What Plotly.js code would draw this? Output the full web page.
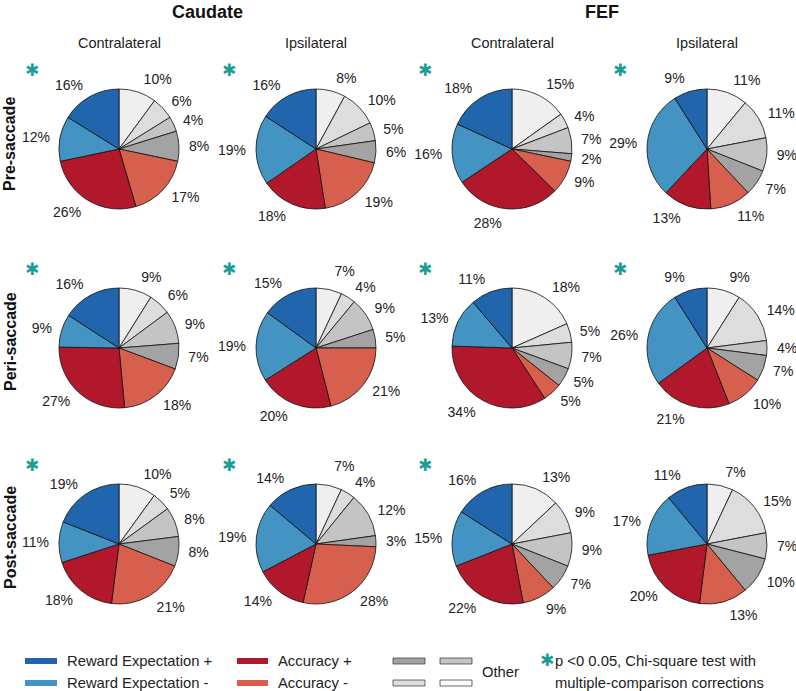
<!DOCTYPE html>
<html><head><meta charset="utf-8">
<script src="https://cdn.plot.ly/plotly-3.0.1.min.js"></script>
<style>html,body{margin:0;padding:0;background:#fff} #chart path.textline{display:none}</style>
</head><body><div id="chart" style="width:796px;height:691px"></div>
<script>
// ---- data ----
const sliceNames = ['Other 1','Other 2','Other 3','Other 4','Accuracy -','Accuracy +','Reward Expectation -','Reward Expectation +'];
const regions = ['Caudate','FEF'];
const sides = ['Contralateral','Ipsilateral'];
const epochs = ['Pre-saccade','Peri-saccade','Post-saccade'];

const caudateContraPre  = [10,6,4,8,17,26,12,16];
const caudateIpsiPre    = [8,10,5,6,19,18,19,16];
const fefContraPre      = [15,4,7,2,9,28,16,18];
const fefIpsiPre        = [11,11,9,7,11,13,29,9];

const caudateContraPeri = [9,6,9,7,18,27,9,16];
const caudateIpsiPeri   = [7,4,9,5,21,20,19,15];
const fefContraPeri     = [18,5,7,5,5,34,13,11];
const fefIpsiPeri       = [9,14,4,7,10,21,26,9];

const caudateContraPost = [10,5,8,8,21,18,11,19];
const caudateIpsiPost   = [7,4,12,3,28,14,19,14];
const fefContraPost     = [13,9,9,7,9,22,15,16];
const fefIpsiPost       = [7,15,7,10,13,20,17,11];

const significant = [
  [true,true,true,true],
  [true,true,true,true],
  [true,true,true,false]
];

const legendMain = ['Reward Expectation +','Reward Expectation -','Accuracy +','Accuracy -'];
const legendOther = 'Other';
const noteLines = ['p <0 0.05, Chi-square test with','multiple-comparison corrections'];

// ---- styles / layout ----
const sliceColors = ['#efefef','#dddddd','#c4c4c4','#a3a3a3','#d6604d','#b2182b','#4393c3','#2166ac'];
const W = 796, H = 691, R = 60, RL = 66;
const colX = [119, 316, 512, 707];
const rowY = [149, 348, 544];
const FONT = 'Liberation Sans, Arial, sans-serif';
const TEAL = '#1a9e96';
const LEGSIZE = 14.8;

const grid = [
  [caudateContraPre, caudateIpsiPre, fefContraPre, fefIpsiPre],
  [caudateContraPeri, caudateIpsiPeri, fefContraPeri, fefIpsiPeri],
  [caudateContraPost, caudateIpsiPost, fefContraPost, fefIpsiPost]
];

const px = x => x / W;
const py = y => 1 - y / H;

const traces = [];
const annotations = [];
const shapes = [];

grid.forEach((row, r) => {
  row.forEach((vals, c) => {
    const cx = colX[c], cy = rowY[r];
    traces.push({
      type: 'pie', values: vals, labels: sliceNames, sort: false,
      direction: 'clockwise', rotation: 0,
      marker: {colors: sliceColors, line: {color: '#111', width: 0.8}},
      textinfo: 'none', hoverinfo: 'skip',
      domain: {x: [px(cx - R), px(cx + R)], y: [py(cy + R), py(cy - R)]}
    });
    traces.push({
      type: 'pie', values: vals, labels: sliceNames, sort: false,
      direction: 'clockwise', rotation: 0,
      marker: {colors: sliceColors.map(() => 'rgba(0,0,0,0)'), line: {width: 0}},
      texttemplate: '%{value}%', textposition: 'outside',
      textfont: {family: FONT, size: 14, color: '#222'},
      outsidetextfont: {family: FONT, size: 14, color: '#222'},
      hoverinfo: 'skip',
      domain: {x: [px(cx - RL), px(cx + RL)], y: [py(cy + RL), py(cy - RL)]}
    });
    if (significant[r][c]) {
      annotations.push({
        xref: 'paper', yref: 'paper', x: px(cx - 87), y: py(cy - 79),
        text: '✱', showarrow: false, xanchor: 'center', yanchor: 'middle',
        font: {family: 'DejaVu Sans', size: 17, color: TEAL}
      });
    }
  });
});

// headers
const regionX = [207, 602];
regions.forEach((t, i) => annotations.push({
  xref: 'paper', yref: 'paper', x: px(regionX[i]), y: py(12), text: '<b>' + t + '</b>',
  showarrow: false, xanchor: 'center', yanchor: 'middle',
  font: {family: FONT, size: 18, color: '#111'}
}));
colX.forEach((x, i) => annotations.push({
  xref: 'paper', yref: 'paper', x: px(x), y: py(43), text: sides[i % 2],
  showarrow: false, xanchor: 'center', yanchor: 'middle',
  font: {family: FONT, size: 14.5, color: '#222'}
}));
const epochY = [144, 342, 538];
epochs.forEach((t, i) => annotations.push({
  xref: 'paper', yref: 'paper', x: px(10), y: py(epochY[i]), text: '<b>' + t + '</b>',
  showarrow: false, xanchor: 'center', yanchor: 'middle', textangle: -90,
  font: {family: FONT, size: 16, color: '#111'}
}));

// legend
const legY = [661, 683];
const legItems = [
  {x0: 25, x1: 57, y: legY[0], color: '#2166ac', text: legendMain[0], tx: 65},
  {x0: 25, x1: 57, y: legY[1], color: '#4393c3', text: legendMain[1], tx: 65},
  {x0: 237, x1: 268, y: legY[0], color: '#b2182b', text: legendMain[2], tx: 276},
  {x0: 237, x1: 268, y: legY[1], color: '#d6604d', text: legendMain[3], tx: 276}
];
legItems.forEach(it => {
  shapes.push({type: 'rect', xref: 'paper', yref: 'paper',
    x0: px(it.x0), x1: px(it.x1), y0: py(it.y + 3), y1: py(it.y - 3),
    fillcolor: it.color, line: {width: 0}});
  annotations.push({xref: 'paper', yref: 'paper', x: px(it.tx), y: py(it.y), text: it.text,
    showarrow: false, xanchor: 'left', yanchor: 'middle',
    font: {family: FONT, size: LEGSIZE, color: '#222'}});
});
const grayBoxes = [
  {x0: 393, x1: 425, y: legY[0], color: sliceColors[3]},
  {x0: 440, x1: 472, y: legY[0], color: sliceColors[2]},
  {x0: 393, x1: 425, y: legY[1], color: sliceColors[1]},
  {x0: 440, x1: 472, y: legY[1], color: '#fbfbfb'}
];
grayBoxes.forEach(b => shapes.push({type: 'rect', xref: 'paper', yref: 'paper',
  x0: px(b.x0), x1: px(b.x1), y0: py(b.y + 3), y1: py(b.y - 3),
  fillcolor: b.color, line: {color: '#444', width: 0.8}}));
annotations.push({xref: 'paper', yref: 'paper', x: px(480), y: py(672), text: legendOther,
  showarrow: false, xanchor: 'left', yanchor: 'middle',
  font: {family: FONT, size: LEGSIZE, color: '#222'}});
annotations.push({xref: 'paper', yref: 'paper', x: px(547), y: py(660), text: '✱',
  showarrow: false, xanchor: 'center', yanchor: 'middle',
  font: {family: 'DejaVu Sans', size: 17, color: TEAL}});
noteLines.forEach((t, i) => annotations.push({xref: 'paper', yref: 'paper', x: px(553), y: py(legY[i]), text: t,
  showarrow: false, xanchor: 'left', yanchor: 'middle',
  font: {family: FONT, size: LEGSIZE, color: '#222'}}));

const layout = {
  width: W, height: H, margin: {l: 0, r: 0, t: 0, b: 0},
  paper_bgcolor: '#fff', showlegend: false,
  annotations, shapes
};
Plotly.newPlot('chart', traces, layout, {displayModeBar: false, staticPlot: true});
</script></body></html>
